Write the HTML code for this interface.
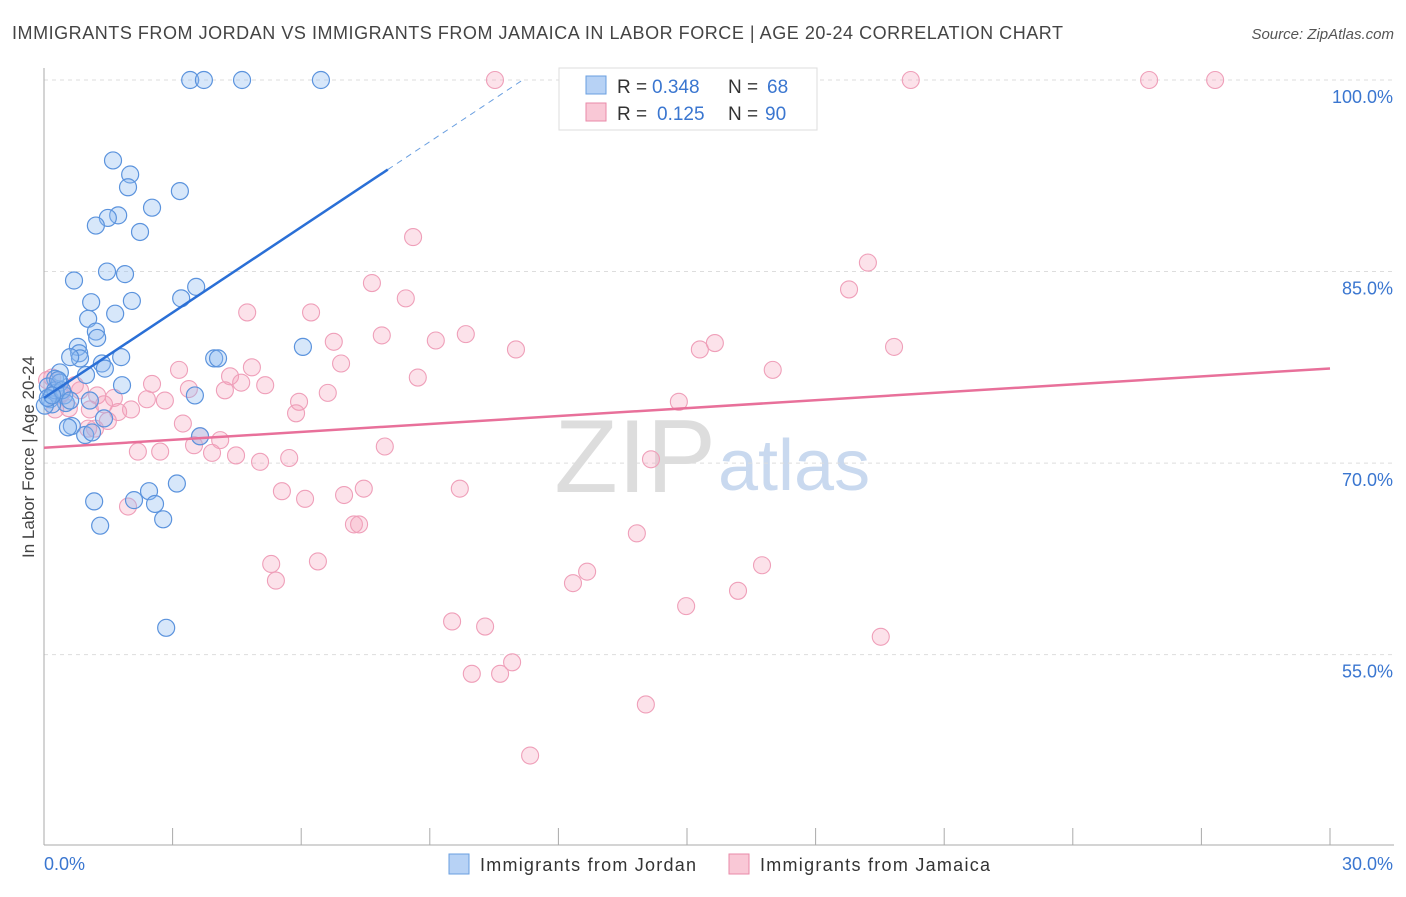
<!DOCTYPE html>
<html><head><meta charset="utf-8"><style>
body{margin:0;background:#fff;font-family:"Liberation Sans",sans-serif}
svg text{font-family:"Liberation Sans",sans-serif}
</style></head><body>
<svg id="chart" width="1406" height="892" xmlns="http://www.w3.org/2000/svg">
<text x="12" y="39" font-size="18" fill="#444" textLength="1051" lengthAdjust="spacing">IMMIGRANTS FROM JORDAN VS IMMIGRANTS FROM JAMAICA IN LABOR FORCE | AGE 20-24 CORRELATION CHART</text>
<text x="1394" y="39" font-size="15" fill="#555" text-anchor="end" font-style="italic">Source: ZipAtlas.com</text>
<text x="716" y="492" font-size="104" fill="#ddd" text-anchor="end" font-family="Liberation Serif">ZIP</text>
<text x="718" y="490" font-size="72" fill="#c9d9ef">atlas</text>
<g id="grid"></g>
<g id="axes"></g>
<g id="pts"></g>
<g id="trend"></g>
<text transform="translate(34,457) rotate(-90)" font-size="17" fill="#444" text-anchor="middle">In Labor Force | Age 20-24</text>
<g>
<rect x="559" y="68" width="258" height="62" fill="#fff" stroke="#ddd"/>
<rect x="586" y="76" width="20" height="18" fill="#b7d2f5" stroke="#6a9fe0"/>
<rect x="586" y="103" width="20" height="18" fill="#f9c8d6" stroke="#e98aa8"/>
<text x="617" y="93" font-size="19" fill="#333">R =</text>
<text x="652" y="93" font-size="19" fill="#3a76d0">0.348</text>
<text x="728" y="93" font-size="19" fill="#333">N =</text>
<text x="767" y="93" font-size="19" fill="#3a76d0">68</text>
<text x="617" y="120" font-size="19" fill="#333">R =</text>
<text x="657" y="120" font-size="19" fill="#3a76d0">0.125</text>
<text x="728" y="120" font-size="19" fill="#333">N =</text>
<text x="765" y="120" font-size="19" fill="#3a76d0">90</text>
</g>
<g>
<rect x="449" y="854" width="20" height="20" fill="#b7d2f5" stroke="#6a9fe0"/>
<text x="480" y="871" font-size="18" fill="#333" textLength="216" lengthAdjust="spacing">Immigrants from Jordan</text>
<rect x="729" y="854" width="20" height="20" fill="#f9c8d6" stroke="#e98aa8"/>
<text x="760" y="871" font-size="18" fill="#333" textLength="230" lengthAdjust="spacing">Immigrants from Jamaica</text>
</g>
</svg>
<script>
const yTicks=[100,85,70,55];
const yTickLabels=["100.0%","85.0%","70.0%","55.0%"];
const xTicks=[0,3,6,9,12,15,18,21,24,27,30];
const blueX=[3.41,3.73,4.62,6.46,1.61,2.01,1.96,3.17,2.52,1.73,1.49,1.21,2.24,1.47,1.89,0.70,3.55,3.20,1.10,2.05,1.03,1.66,1.21,1.24,0.79,0.82,0.84,0.61,1.80,3.97,4.06,6.04,1.35,1.42,0.37,0.98,0.26,1.82,0.37,0.09,0.28,0.47,0.14,0.51,0.19,3.52,1.40,0.65,0.56,0.96,1.12,3.64,2.10,1.17,2.45,2.59,3.10,2.78,1.31,2.85,0.02,0.26,0.09,0.42,0.33,0.61,1.07,0.19];
const blueY=[100,100,100,100,93.7,92.6,91.6,91.3,90.0,89.4,89.2,88.6,88.1,85.0,84.8,84.3,83.8,82.9,82.6,82.7,81.3,81.7,80.3,79.8,79.1,78.6,78.2,78.3,78.3,78.2,78.2,79.1,77.8,77.4,77.1,76.9,76.6,76.1,76.3,76.0,75.5,75.3,75.0,74.7,74.6,75.3,73.5,72.9,72.8,72.2,72.4,72.1,67.1,67.0,67.8,66.8,68.4,65.6,65.1,57.1,74.5,75.7,75.1,75.7,76.5,74.9,74.9,75.3];
const pinkX=[10.52,20.22,25.78,27.32,8.61,19.22,7.65,18.78,8.44,4.74,6.23,7.88,9.84,9.14,6.76,11.01,15.30,15.65,19.83,6.93,3.15,8.72,17.00,2.52,4.34,4.60,5.16,4.85,4.22,3.38,6.62,5.95,14.81,2.40,2.82,1.63,1.24,5.88,2.03,1.73,1.40,0.58,0.84,0.42,0.19,3.24,3.64,4.11,3.50,3.92,4.48,5.72,5.04,7.95,2.19,2.71,14.16,1.19,1.49,5.55,6.09,7.00,7.46,9.70,1.96,7.23,7.35,13.83,5.30,6.39,5.41,12.34,12.67,16.75,14.98,16.19,9.52,10.29,19.52,10.92,9.98,10.64,14.04,11.34,0.07,0.37,0.72,1.07,0.26,1.03];
const pinkY=[100,100,100,100,87.7,85.7,84.1,83.6,82.9,81.8,81.8,80.0,80.1,79.6,79.5,78.9,78.9,79.4,79.1,77.8,77.3,76.7,77.3,76.2,76.8,76.3,76.1,77.5,75.7,75.8,75.5,74.8,74.8,75.0,74.9,75.1,75.3,73.9,74.2,74.0,74.6,74.3,75.7,75.5,76.7,73.1,72.1,71.8,71.4,70.8,70.6,70.4,70.1,71.3,70.9,70.9,70.3,72.7,73.3,67.8,67.2,67.5,68.0,68.0,66.6,65.2,65.2,64.5,62.1,62.3,60.8,60.6,61.5,62.0,58.8,60.0,57.6,57.2,56.4,54.4,53.5,53.5,51.1,47.1,76.5,75.3,76.1,74.2,74.2,72.7];
const blueTrend=[75.1,2.23];
const pinkTrend=[71.2,0.207];
const NS="http://www.w3.org/2000/svg";
const xS=v=>44+v/30*1286, yS=v=>80+(100-v)*12.77;
function mk(t,a,p){const e=document.createElementNS(NS,t);for(const k in a)e.setAttribute(k,a[k]);document.getElementById(p).appendChild(e);return e;}
yTicks.forEach((t,i)=>{
const l=mk('line',{x1:44,x2:1394,y1:yS(t),y2:yS(t),stroke:'#ddd','stroke-dasharray':'4,4'},'grid');


const tx=mk('text',{x:1393,y:yS(t)+23,'font-size':18,fill:'#3a76d0','text-anchor':'end'},'axes');tx.textContent=yTickLabels[i];


});
const ya=mk('line',{x1:44,x2:44,y1:68,y2:845,stroke:'#aaa'},'axes');


const xa=mk('line',{x1:44,x2:1394,y1:845,y2:845,stroke:'#aaa'},'axes');


xTicks.forEach(t=>{const l=mk('line',{x1:xS(t),x2:xS(t),y1:828,y2:845,stroke:'#aaa'},'axes');

});
[['0.0%',44,'start'],['30.0%',1393,'end']].forEach(a=>{const t=mk('text',{x:a[1],y:870,'font-size':18,fill:'#3a76d0','text-anchor':a[2]},'axes');t.textContent=a[0];

});
pinkX.forEach((x,i)=>{const c=mk('circle',{cx:xS(x),cy:yS(pinkY[i]),r:8.5,fill:'rgba(245,160,185,0.3)',stroke:'#ef9fb9','stroke-width':1.1},'pts');

});
blueX.forEach((x,i)=>{const c=mk('circle',{cx:xS(x),cy:yS(blueY[i]),r:8.5,fill:'rgba(140,185,240,0.35)',stroke:'#5b93dd','stroke-width':1.2},'pts');

});
const bEnd=(100-blueTrend[0])/blueTrend[1];
const b1=mk('line',{x1:xS(0),y1:yS(blueTrend[0]),x2:xS(8.02),y2:yS(blueTrend[0]+blueTrend[1]*8.02),stroke:'#2a6fd6','stroke-width':2.5},'trend');


const b2=mk('line',{x1:xS(8.02),y1:yS(blueTrend[0]+blueTrend[1]*8.02),x2:xS(bEnd),y2:yS(100),stroke:'#6a9fe0','stroke-width':1,'stroke-dasharray':'6,5'},'trend');


const p1=mk('line',{x1:xS(0),y1:yS(pinkTrend[0]),x2:xS(30),y2:yS(pinkTrend[0]+pinkTrend[1]*30),stroke:'#e8709a','stroke-width':2.5},'trend');


</script>
</body></html>
